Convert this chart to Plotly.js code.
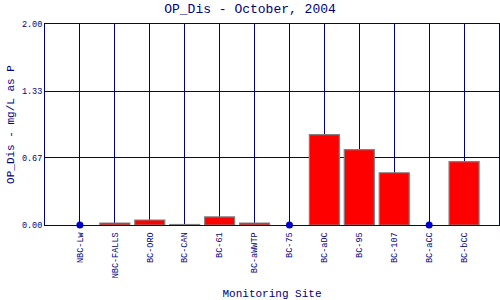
<!DOCTYPE html>
<html><head><meta charset="utf-8">
<script src="https://cdn.plot.ly/plotly-3.0.1.min.js"></script>
<style>html,body{margin:0;padding:0;background:#fff}#chart{width:500px;height:300px}</style>
</head><body><div id="chart"></div>
<script>
const sites = ["NBC-Lw","NBC-FALLS","BC-ORO","BC-CAN","BC-61","BC-aWWTP","BC-75","BC-aDC","BC-95","BC-107","BC-aCC","BC-bCC"];
const values = [null,0.02,0.05,0.005,0.08,0.02,null,0.90,0.75,0.52,null,0.63];
const yTicks = [0,0.67,1.33,2.00];
const yTickText = ["0.00","0.67","1.33","2.00"];

const missingSites = sites.filter((s,i)=>values[i]===null);
const missingY = missingSites.map(()=>0);

const navy = "#000080";
const mono = "Liberation Mono, DejaVu Sans Mono, monospace";

const data = [
  {type:"bar", x:sites, y:values, width:0.86,
   marker:{color:"#ff0000", line:{color:"#808080", width:1.2}}, hoverinfo:"none"},
  {type:"scatter", mode:"markers", x:missingSites, y:missingY, cliponaxis:false,
   marker:{color:"#0000cc", size:7}, hoverinfo:"none"}
];
const layout = {
  width:500, height:300, showlegend:false,
  paper_bgcolor:"#fff", plot_bgcolor:"#fff",
  margin:{l:45, r:1, t:24, b:75},
  title:{text:"OP_Dis - October, 2004", font:{family:mono, size:13, color:navy}, x:0.5, xanchor:"center", y:0.972, yanchor:"middle"},
  xaxis:{type:"category", range:[-1,12], showgrid:true, gridcolor:navy, gridwidth:1,
    showline:true, linecolor:navy, linewidth:1, mirror:true, ticks:"", tickangle:-90, ticklabelstandoff:3,
    tickfont:{family:mono, size:8.5, color:navy}, zeroline:false,
    title:{text:"Monitoring Site", font:{family:mono, size:11, color:navy}, standoff:16}},
  yaxis:{range:[0,2], tickvals:yTicks, ticktext:yTickText, showgrid:true, gridcolor:navy, gridwidth:1,
    showline:true, linecolor:navy, linewidth:1, mirror:true, ticks:"", zeroline:false,
    tickfont:{family:mono, size:8.5, color:navy},
    title:{text:"OP_Dis - mg/L as P", font:{family:mono, size:11, color:navy}, standoff:5}}
};
Plotly.newPlot("chart", data, layout, {staticPlot:true, displayModeBar:false});
</script></body></html>
